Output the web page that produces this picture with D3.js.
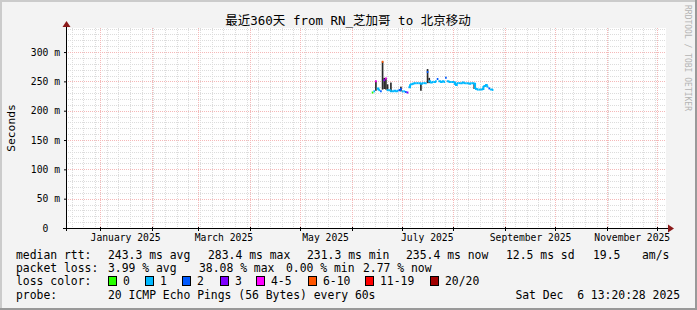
<!DOCTYPE html>
<html>
<head>
<meta charset="utf-8">
<script src="https://cdn.jsdelivr.net/npm/d3@7/dist/d3.min.js"></script>
<style>
body { margin: 0; background: #f3f3f3; }
text { font-family: "DejaVu Sans Mono", "Noto Sans CJK SC", monospace; fill: #000; white-space: pre; }
</style>
</head>
<body>
<svg id="chart" width="697" height="310"></svg>
<script>
// time frame of the graph (360 days)
var startTime = new Date(2024, 11, 11, 13, 20, 28);
var endTime = new Date(2025, 11, 6, 13, 20, 28);
var firstDay = new Date(2025, 5, 13); // first day with data

// daily median rtt (ms)
var median = [231, 233, 250, 238, 235, 233, 283.4, 252, 255, 235, 235, 233, 233, 234, 233,
              234, 235, 237, 233, 233, 232, 231, 240, 245, 246, 247, 247, 247, 247, 246,
              247, 247, 247, 266, 250, 248, 249, 249, 250, 254, 250, 249, 250, 249, 256,
              250, 249, 249, 249, 248, 244, 247, 247, 247, 248, 247, 247, 247, 246, 247,
              247, 246, 237, 236, 236, 236, 237, 242, 244, 241, 238, 236, 235.4];
// loss class per day (index into lossLabels)
var loss = [0, 1, 4, 1, 1, 2, 5, 3, 4, 1, 1, 1, 1, 1, 1,
            1, 2, 2, 1, 1, 2, 3, 1, 1, 1, 1, 1, 1, 1, 1,
            1, 1, 1, 2, 1, 1, 1, 1, 1, 2, 1, 1, 1, 1, 2,
            1, 1, 1, 1, 1, 1, 1, 1, 1, 1, 1, 1, 1, 1, 1,
            1, 1, 1, 1, 1, 1, 1, 1, 1, 1, 2, 1, 1];

// smoke (spread of the pings) where it shows
var spikeDay = [2, 6, 7, 8, 9, 11, 17, 29, 33, 34, 61];
var spikeLo  = [234, 236, 237, 236, 234, 232, 233, 234, 247, 247, 237];
var spikeHi  = [251, 284, 256, 256, 245, 248, 241, 247, 271, 256, 247];

var lossLabels = ["0", "1", "2", "3", "4-5", "6-10", "11-19", "20/20"];
var lossColors = ["#26ff00", "#00b8ff", "#0059ff", "#7e00ff", "#ff00ff", "#ff5500", "#ff0000", "#a10000"];
var lossBoxX = [108, 145, 182, 220, 256, 308, 365, 430];

var yTicks = [0, 50, 100, 150, 200, 250, 300];

var rttLegend = [["median rtt:", 16], ["243.3 ms avg", 108], ["283.4 ms max", 208], ["231.3 ms min", 307],
                 ["235.4 ms now", 406], ["12.5 ms sd", 506], ["19.5", 593], ["am/s", 642]];
var lossLegend = [["packet loss:", 16], ["3.99 % avg", 108], ["38.08 % max", 199], ["0.00 % min", 286], ["2.77 % now", 363]];

var title = "最近360天 from RN_芝加哥 to 北京移动";

var margin = {left: 66, top: 28, width: 600, height: 200};

var svg = d3.select("#chart");

// frame
svg.append("rect").attr("width", 697).attr("height", 310).attr("fill", "#f3f3f3");
svg.append("rect").attr("x", 0).attr("y", 0).attr("width", 697).attr("height", 2).attr("fill", "#cbcbcb");
svg.append("rect").attr("x", 0).attr("y", 0).attr("width", 2).attr("height", 310).attr("fill", "#cbcbcb");
svg.append("rect").attr("x", 0).attr("y", 308).attr("width", 697).attr("height", 2).attr("fill", "#999");
svg.append("rect").attr("x", 695).attr("y", 0).attr("width", 2).attr("height", 310).attr("fill", "#999");

var x = d3.scaleTime()
    .domain([startTime, endTime])
    .range([margin.left, margin.left + margin.width]);

var y = d3.scaleLinear()
    .domain([0, 341])
    .range([margin.top + margin.height, margin.top]);

var px = function(v){ return Math.round(v) + 0.5; };

svg.append("rect")
    .attr("x", margin.left).attr("y", margin.top)
    .attr("width", margin.width).attr("height", margin.height)
    .attr("fill", "#fff");

// grid
var grid = svg.append("g").attr("shape-rendering", "crispEdges").attr("stroke-dasharray", "1,1");

grid.selectAll(".hminor")
    .data(d3.range(10, 341, 10).filter(function(v){ return v % 50 !== 0; }))
    .enter().append("line")
    .attr("x1", margin.left).attr("x2", margin.left + margin.width)
    .attr("y1", function(d){ return px(y(d)); }).attr("y2", function(d){ return px(y(d)); })
    .attr("stroke", "#dcdcdc");

grid.selectAll(".vminor")
    .data(d3.timeWeek.range(startTime, endTime))
    .enter().append("line")
    .attr("x1", function(d){ return px(x(d)); }).attr("x2", function(d){ return px(x(d)); })
    .attr("y1", margin.top).attr("y2", margin.top + margin.height)
    .attr("stroke", "#dcdcdc");

grid.selectAll(".hmajor")
    .data(yTicks.slice(1))
    .enter().append("line")
    .attr("x1", margin.left).attr("x2", margin.left + margin.width)
    .attr("y1", function(d){ return px(y(d)); }).attr("y2", function(d){ return px(y(d)); })
    .attr("stroke", "#f5b8b8");

grid.selectAll(".vmajor")
    .data(d3.timeMonth.range(startTime, endTime))
    .enter().append("line")
    .attr("x1", function(d){ return px(x(d)); }).attr("x2", function(d){ return px(x(d)); })
    .attr("y1", margin.top).attr("y2", margin.top + margin.height)
    .attr("stroke", "#f5b8b8");

// data
var days = d3.timeDay.range(firstDay, d3.timeDay.offset(firstDay, median.length));
var plot = svg.append("g");

plot.selectAll(".smoke")
    .data(spikeDay)
    .enter().append("rect")
    .attr("x", function(d){ return x(days[d]); })
    .attr("width", function(d){ return x(d3.timeDay.offset(days[d], 1)) - x(days[d]); })
    .attr("y", function(d, i){ return y(spikeHi[i]); })
    .attr("height", function(d, i){ return y(spikeLo[i]) - y(spikeHi[i]); })
    .attr("fill", "#2a2a2a");

plot.selectAll(".med")
    .data(days)
    .enter().append("path")
    .attr("d", function(d, i){
        var x0 = x(d), x1 = x(d3.timeDay.offset(d, 1));
        var p = "M" + x0 + "," + y(median[i]) + "H" + x1;
        if (i + 1 < median.length && loss[i + 1] === loss[i]) p += "V" + y(median[i + 1]);
        return p;
    })
    .attr("fill", "none")
    .attr("stroke-width", 2)
    .attr("stroke", function(d, i){ return lossColors[loss[i]]; });

// axes
var yAxis = d3.axisLeft(y)
    .tickValues(yTicks)
    .tickSize(2)
    .tickPadding(4)
    .tickFormat(function(d){ return d === 0 ? "0  " : d + " m"; });

var ya = svg.append("g")
    .attr("transform", "translate(" + margin.left + ",0)")
    .call(yAxis);
ya.select(".domain").remove();
ya.selectAll("text").style("font-size", "9.7px").style("font-family", "DejaVu Sans Mono");

var labelMonths = d3.timeMonth.every(2).range(new Date(2025, 0, 1), endTime);
var xAxis = d3.axisBottom(x)
    .tickValues(labelMonths.map(function(d){ return d3.timeDay.offset(d, 15); }))
    .tickSize(0)
    .tickPadding(6)
    .tickFormat(function(d){ return d3.timeFormat("%B %Y")(d); });

var xa = svg.append("g")
    .attr("transform", "translate(0," + (margin.top + margin.height) + ")")
    .call(xAxis);
xa.select(".domain").remove();
xa.selectAll("text").style("font-size", "9.7px").style("font-family", "DejaVu Sans Mono");

// month ticks on the x axis
svg.selectAll(".mtick")
    .data(d3.timeMonth.range(startTime, endTime))
    .enter().append("line")
    .attr("x1", function(d){ return px(x(d)); }).attr("x2", function(d){ return px(x(d)); })
    .attr("y1", 227).attr("y2", 231)
    .attr("stroke", "#000").attr("shape-rendering", "crispEdges");

// axis lines and arrows
var axisColor = "#000";
svg.append("line").attr("x1", 63).attr("x2", 669).attr("y1", 228.5).attr("y2", 228.5)
    .attr("stroke", axisColor).attr("shape-rendering", "crispEdges");
svg.append("line").attr("x1", 66.5).attr("x2", 66.5).attr("y1", 231).attr("y2", 25)
    .attr("stroke", axisColor).attr("shape-rendering", "crispEdges");
svg.append("path").attr("d", "M668,224.5L674,228.5L668,232.5Z").attr("fill", "#8b1a1a");
svg.append("path").attr("d", "M62.5,27L66.5,21L70.5,27Z").attr("fill", "#8b1a1a");

// title and labels
svg.append("text")
    .attr("x", 348).attr("y", 25)
    .attr("text-anchor", "middle")
    .style("font-size", "12.5px")
    .text(title);

svg.append("text")
    .attr("transform", "translate(15,128) rotate(-90)")
    .attr("text-anchor", "middle")
    .style("font-size", "11.3px")
    .text("Seconds");

svg.append("text")
    .attr("transform", "translate(685,5) rotate(90)")
    .style("font-size", "8px")
    .style("fill", "#b4b4b4")
    .text("RRDTOOL / TOBI OETIKER");

// legend
var legendFont = "11.4px";
function legendRow(items, yy) {
    svg.append("g").selectAll("text")
        .data(items)
        .enter().append("text")
        .attr("x", function(d){ return d[1]; })
        .attr("y", yy)
        .style("font-size", legendFont)
        .text(function(d){ return d[0]; });
}
legendRow(rttLegend, 259);
legendRow(lossLegend, 272);
legendRow([["loss color:", 16]], 285);

var lc = svg.append("g");
lc.selectAll("rect")
    .data(lossColors)
    .enter().append("rect")
    .attr("x", function(d, i){ return lossBoxX[i] + 0.5; })
    .attr("y", 276.5)
    .attr("width", 8).attr("height", 9)
    .attr("fill", function(d){ return d; })
    .attr("stroke", "#000");
lc.selectAll("text")
    .data(lossLabels)
    .enter().append("text")
    .attr("x", function(d, i){ return lossBoxX[i] + 15; })
    .attr("y", 285)
    .style("font-size", legendFont)
    .text(function(d){ return d; });

legendRow([["probe:", 16], ["20 ICMP Echo Pings (56 Bytes) every 60s", 108]], 299);
svg.append("text")
    .attr("x", 680).attr("y", 299)
    .attr("text-anchor", "end")
    .style("font-size", legendFont)
    .text("Sat Dec  6 13:20:28 2025");
</script>
</body>
</html>
